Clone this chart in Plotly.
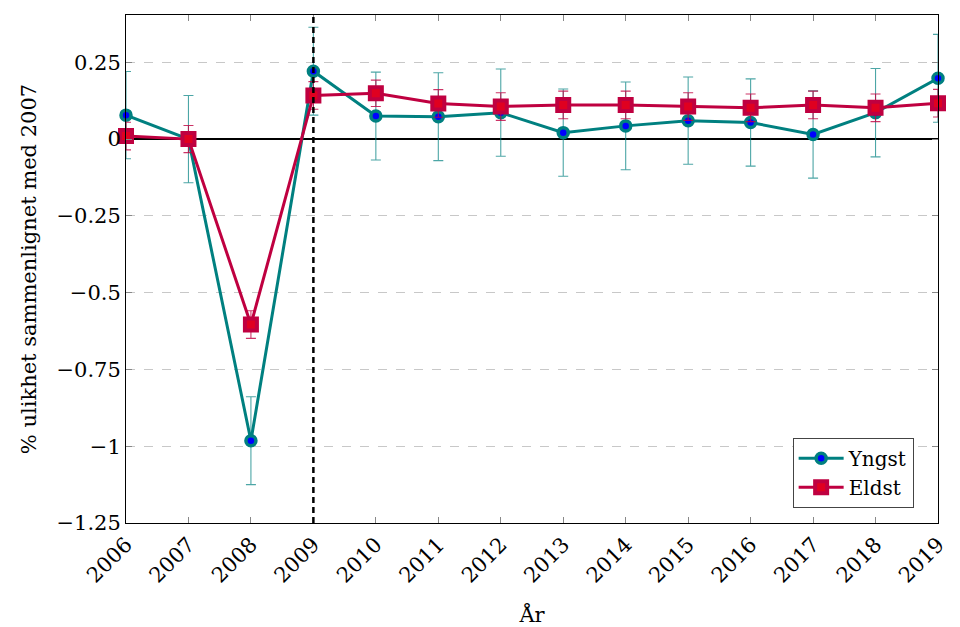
import plotly.graph_objects as go

years = list(range(2006, 2020))

yngst = [0.078, 0.0, -0.982, 0.221, 0.075, 0.073, 0.086, 0.021, 0.043, 0.060, 0.054, 0.015, 0.086, 0.198]
yngst_err = [0.142, 0.142, 0.143, 0.143, 0.143, 0.143, 0.142, 0.142, 0.143, 0.142, 0.142, 0.142, 0.144, 0.143]

eldst = [0.010, 0.0, -0.604, 0.142, 0.149, 0.116, 0.106, 0.111, 0.111, 0.106, 0.102, 0.111, 0.102, 0.117]
eldst_err = [0.045, 0.044, 0.045, 0.045, 0.043, 0.045, 0.045, 0.045, 0.045, 0.045, 0.045, 0.045, 0.045, 0.045]

y_ticks = [0.25, 0, -0.25, -0.5, -0.75, -1, -1.25]
y_tick_text = ["0.25", "0", "\u22120.25", "\u22120.5", "\u22120.75", "\u22121", "\u22121.25"]

TEAL = "#008080"
PURPLE = "#bf0040"
FONT = "DejaVu Serif"
FS = 21

fig = go.Figure()

fig.add_trace(go.Scatter(
    x=years, y=yngst, name="Yngst", mode="lines+markers",
    line=dict(color=TEAL, width=3),
    marker=dict(symbol="circle", size=10, color="#0000ff", line=dict(color=TEAL, width=3.5)),
    error_y=dict(type="data", array=yngst_err, visible=True,
                 color="rgba(0,128,128,0.7)", thickness=1.1, width=5),
    cliponaxis=False,
))

fig.add_trace(go.Scatter(
    x=years, y=eldst, name="Eldst", mode="lines+markers",
    line=dict(color=PURPLE, width=3),
    marker=dict(symbol="square", size=12, color="#e00020", line=dict(color=PURPLE, width=4)),
    error_y=dict(type="data", array=eldst_err, visible=True,
                 color="rgba(191,0,64,0.8)", thickness=1.1, width=5),
    cliponaxis=False,
))

# vertical marker at 2009
fig.add_shape(type="line", x0=2009, x1=2009, xref="x", y0=0, y1=1, yref="paper",
              line=dict(color="black", width=2.5, dash="6px,4px"), layer="above")

fig.update_layout(
    width=960, height=627,
    margin=dict(l=126, r=22, t=15, b=104),
    paper_bgcolor="white", plot_bgcolor="white",
    font=dict(family=FONT, size=FS, color="black"),
    showlegend=True,
    legend=dict(x=0.97, y=0.03, xanchor="right", yanchor="bottom",
                bgcolor="white", bordercolor="#444", borderwidth=1,
                font=dict(family=FONT, size=FS - 1), tracegroupgap=0, itemwidth=45),
)

fig.update_xaxes(
    range=[2006, 2019], tickmode="array", tickvals=years, ticktext=[str(y) for y in years],
    tickangle=-45, ticks="inside", ticklen=6, tickcolor="#888",
    showline=True, mirror="ticks", linecolor="black", linewidth=1,
    showgrid=False, zeroline=False, automargin=False,
    tickfont=dict(family=FONT, size=FS),
    title=dict(text="År", font=dict(family=FONT, size=FS), standoff=26),
)

fig.update_yaxes(
    range=[-1.25, 0.404], tickmode="array", tickvals=y_ticks, ticktext=y_tick_text,
    ticks="inside", ticklen=6, tickcolor="#888",
    showline=True, mirror="ticks", linecolor="black", linewidth=1,
    showgrid=True, gridcolor="#c8c8c8", griddash="dash", gridwidth=1,
    zeroline=True, zerolinecolor="black", zerolinewidth=2, automargin=False,
    tickfont=dict(family=FONT, size=FS),
    title=dict(text="% ulikhet sammenlignet med 2007", font=dict(family=FONT, size=FS), standoff=14),
)

fig.write_html("out.html")
